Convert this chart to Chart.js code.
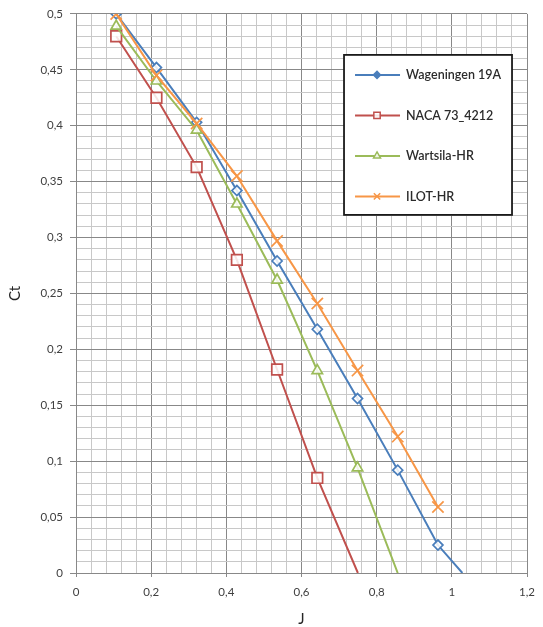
<!DOCTYPE html>
<html><head><meta charset="utf-8">
<script src="https://cdn.jsdelivr.net/npm/chart.js@4/dist/chart.umd.min.js"></script>
<style>html,body{margin:0;padding:0;background:#fff}#wrap{width:543px;height:627px}</style>
</head><body><div id="wrap"><canvas id="c" width="543" height="627"></canvas></div>
<script>
// ---- data ----
const jValues = [0.107, 0.214, 0.321, 0.428, 0.535, 0.642, 0.749, 0.856, 0.963];
const wageningenJ  = [0.107, 0.214, 0.321, 0.428, 0.535, 0.642, 0.749, 0.856, 0.963, 1.028];
const wageningenCt = [0.500, 0.452, 0.403, 0.342, 0.279, 0.218, 0.156, 0.092, 0.025, 0];
const nacaJ  = [0.107, 0.214, 0.321, 0.428, 0.535, 0.642, 0.750];
const nacaCt = [0.480, 0.425, 0.363, 0.280, 0.182, 0.085, 0];
const wartsilaJ  = [0.107, 0.214, 0.321, 0.428, 0.535, 0.642, 0.749, 0.856];
const wartsilaCt = [0.489, 0.440, 0.396, 0.330, 0.262, 0.181, 0.094, 0];
const ilotJ  = jValues;
const ilotCt = [0.500, 0.445, 0.402, 0.355, 0.297, 0.241, 0.181, 0.122, 0.059];
const seriesNames = ['Wageningen 19A', 'NACA 73_4212', 'Wartsila-HR', 'ILOT-HR'];
const xMajorTicks = [0, 0.2, 0.4, 0.6, 0.8, 1.0, 1.2];
const yMajorTicks = [0, 0.05, 0.1, 0.15, 0.2, 0.25, 0.3, 0.35, 0.4, 0.45, 0.5];
const xMinorStep = 0.04, yMinorStep = 0.01;

const FONT = 'Lato, "Liberation Sans", sans-serif';
const MAJOR = '#888888', MINOR = '#c8c8c8';

function pts(xs, ys){ return xs.map((x,i)=>({x:x, y:ys[i]})); }
function makeTicks(max, step){ const a=[]; const n=Math.round(max/step); for(let i=0;i<=n;i++) a.push(+(i*step).toFixed(4)); return a; }
function isMajor(v, majors){ return majors.some(m=>Math.abs(m-v)<1e-6); }
function fmt(v){ return String(+v.toFixed(2)).replace('.', ','); }

const styles = [
  {color:'#4a7ebb', pointStyle:'rectRot', r:5, order:4},
  {color:'#c0504d', pointStyle:'rect', r:7.5, order:3},
  {color:'#9bbb59', pointStyle:'triangle', r:6, order:2},
  {color:'#f79646', pointStyle:'crossRot', r:8, order:1}
];
const seriesData = [pts(wageningenJ, wageningenCt), pts(nacaJ, nacaCt), pts(wartsilaJ, wartsilaCt), pts(ilotJ, ilotCt)];

const datasets = seriesData.map((d,i)=>({
  label: seriesNames[i],
  data: d,
  showLine: true,
  borderColor: styles[i].color,
  backgroundColor: '#ffffff',
  borderWidth: 2,
  pointStyle: styles[i].pointStyle,
  pointBorderColor: styles[i].color,
  pointBackgroundColor: 'rgba(255,255,255,0.85)',
  pointBorderWidth: 1.7,
  pointRadius: ctx => (ctx.raw && ctx.raw.y === 0) ? 0 : styles[i].r,
  pointHoverRadius: ctx => (ctx.raw && ctx.raw.y === 0) ? 0 : styles[i].r,
  tension: 0,
  order: styles[i].order
}));

const boxLegend = {
  id: 'boxLegend',
  afterDatasetsDraw(chart){
    const ctx = chart.ctx, ca = chart.chartArea;
    const left = ca.right - 183, top = ca.top + 41, w = 168, h = 160;
    ctx.save();
    ctx.fillStyle = '#ffffff';
    ctx.fillRect(left, top, w, h);
    ctx.strokeStyle = '#1a1a1a'; ctx.lineWidth = 1.8;
    ctx.strokeRect(left, top, w, h);
    chart.data.datasets.forEach((ds, i) => {
      const y = top + 20 + i * 40.5;
      ctx.strokeStyle = ds.borderColor; ctx.lineWidth = 2;
      ctx.beginPath(); ctx.moveTo(left + 11, y); ctx.lineTo(left + 56, y); ctx.stroke();
      if (Chart.helpers && Chart.helpers.drawPoint) {
        ctx.fillStyle = i === 0 ? ds.borderColor : 'rgba(255,255,255,0.85)';
        ctx.strokeStyle = ds.borderColor; ctx.lineWidth = 1.5;
        Chart.helpers.drawPoint(ctx, {pointStyle: ds.pointStyle, rotation: 0, borderWidth: 1.5, radius: [3.5,4.5,4,4.5][i]}, left + 33, y);
      }
      ctx.fillStyle = '#2b2b2b';
      ctx.font = '600 12.5px ' + FONT;
      ctx.textBaseline = 'middle'; ctx.textAlign = 'left';
      ctx.fillText(ds.label, left + 62, y + 0.5);
    });
    ctx.restore();
  }
};

new Chart(document.getElementById('c'), {
  type: 'scatter',
  data: { datasets },
  plugins: [boxLegend],
  options: {
    responsive: false,
    animation: false,
    layout: { padding: { left: 0, right: 13, top: 13, bottom: 0 } },
    plugins: { legend: { display: false }, tooltip: { enabled: false } },
    scales: {
      x: {
        type: 'linear', min: 0, max: 1.2,
        afterBuildTicks: s => { s.ticks = makeTicks(1.2, xMinorStep).map(v=>({value:v})); },
        afterFit: s => { s.height = 54; },
        ticks: { autoSkip: false, maxRotation: 0, padding: 8, color: '#404040', font: { family: FONT, size: 11.5 },
          callback: v => isMajor(v, xMajorTicks) ? fmt(v) : '' },
        grid: { color: c => isMajor(c.tick.value, xMajorTicks) ? MAJOR : MINOR,
                tickColor: c => isMajor(c.tick.value, xMajorTicks) ? MAJOR : 'rgba(0,0,0,0)',
                tickLength: 4, lineWidth: 1 },
        border: { color: MAJOR, width: 1 },
        title: { display: true, text: 'J', color: '#262626', font: { family: FONT, size: 15, lineHeight: 1 }, padding: { top: 0, bottom: 0 } }
      },
      y: {
        type: 'linear', min: 0, max: 0.5,
        afterBuildTicks: s => { s.ticks = makeTicks(0.5, yMinorStep).map(v=>({value:v})); },
        afterFit: s => { s.width = 76; },
        ticks: { autoSkip: false, padding: 7, color: '#404040', font: { family: FONT, size: 11.5 },
          callback: v => isMajor(v, yMajorTicks) ? fmt(v) : '' },
        grid: { color: c => isMajor(c.tick.value, yMajorTicks) ? MAJOR : MINOR,
                tickColor: c => isMajor(c.tick.value, yMajorTicks) ? MAJOR : 'rgba(0,0,0,0)',
                tickLength: 6, lineWidth: 1 },
        border: { color: MAJOR, width: 1 },
        title: { display: true, text: 'Ct', color: '#262626', font: { family: FONT, size: 15, lineHeight: 1 }, padding: { top: 8, bottom: 0 } }
      }
    }
  }
});
</script></body></html>
